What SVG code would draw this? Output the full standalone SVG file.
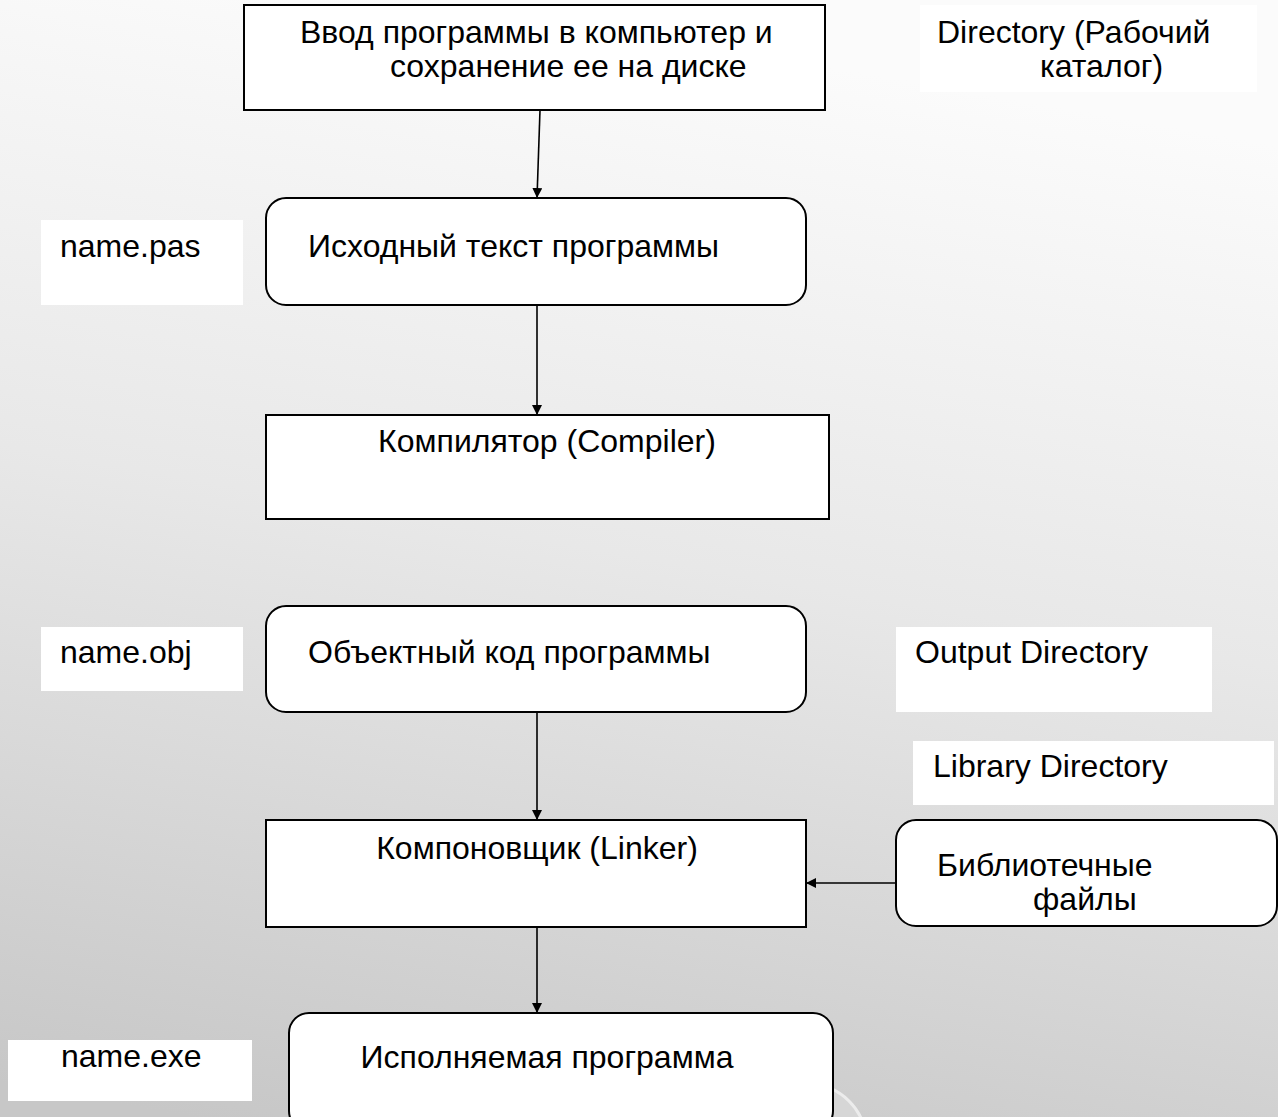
<svg xmlns="http://www.w3.org/2000/svg" width="1278" height="1117" viewBox="0 0 1278 1117">
  <defs>
    <linearGradient id="bg" x1="0.35" y1="0" x2="0.15" y2="1">
      <stop offset="0" stop-color="#fbfbfb"/>
      <stop offset="0.45" stop-color="#e8e8e8"/>
      <stop offset="1" stop-color="#c7c7c7"/>
    </linearGradient>
    <marker id="arrow" viewBox="0 0 10 10" refX="10" refY="5" markerWidth="10" markerHeight="10" markerUnits="userSpaceOnUse" orient="auto">
      <path d="M0,0 L10,5 L0,10 z" fill="#000"/>
    </marker>
    <style>
      .box { fill: #ffffff; stroke: #000000; stroke-width: 2; }
      .label { fill: #ffffff; stroke: none; }
      .t { font-family: "Liberation Sans", Arial, sans-serif; font-size: 32px; fill: #000000; }
      .mid { text-anchor: middle; }
      .conn { stroke: #000000; stroke-width: 1.6; fill: none; marker-end: url(#arrow); }
    </style>
  </defs>

  <!-- background -->
  <rect x="0" y="0" width="1278" height="1117" fill="url(#bg)"/>
  <circle cx="808" cy="1142" r="58" fill="#d6d6d6" stroke="#ececec" stroke-width="3"/>

  <!-- side labels -->
  <g id="label-directory">
    <rect class="label" x="920" y="5" width="337" height="87"/>
    <text class="t" x="937" y="43">Directory (Рабочий</text>
    <text class="t" x="1040" y="77">каталог)</text>
  </g>
  <g id="label-pas">
    <rect class="label" x="41" y="220" width="202" height="85"/>
    <text class="t" x="60" y="257">name.pas</text>
  </g>
  <g id="label-obj">
    <rect class="label" x="41" y="627" width="202" height="64"/>
    <text class="t" x="60" y="663">name.obj</text>
  </g>
  <g id="label-output">
    <rect class="label" x="896" y="627" width="316" height="85"/>
    <text class="t" x="915" y="663">Output Directory</text>
  </g>
  <g id="label-library">
    <rect class="label" x="913" y="741" width="361" height="64"/>
    <text class="t" x="933" y="777">Library Directory</text>
  </g>
  <g id="label-exe">
    <rect class="label" x="8" y="1040" width="244" height="61"/>
    <text class="t" x="61" y="1067">name.exe</text>
  </g>

  <!-- connectors -->
  <g id="connectors">
    <line class="conn" x1="540" y1="110" x2="537" y2="198"/>
    <line class="conn" x1="537" y1="305" x2="537" y2="415"/>
    <line class="conn" x1="537" y1="712" x2="537" y2="820"/>
    <line class="conn" x1="896" y1="883" x2="806" y2="883"/>
    <line class="conn" x1="537" y1="927" x2="537" y2="1013"/>
  </g>

  <!-- process nodes -->
  <g id="node-input">
    <rect class="box" x="244" y="5" width="581" height="105"/>
    <text class="t" x="300" y="43">Ввод программы в компьютер и</text>
    <text class="t" x="390" y="77">сохранение ее на диске</text>
  </g>
  <g id="node-source">
    <rect class="box" x="266" y="198" width="540" height="107" rx="20"/>
    <text class="t" x="308" y="257">Исходный текст программы</text>
  </g>
  <g id="node-compiler">
    <rect class="box" x="266" y="415" width="563" height="104"/>
    <text class="t mid" x="547" y="452">Компилятор (Compiler)</text>
  </g>
  <g id="node-object">
    <rect class="box" x="266" y="606" width="540" height="106" rx="20"/>
    <text class="t" x="308" y="663">Объектный код программы</text>
  </g>
  <g id="node-linker">
    <rect class="box" x="266" y="820" width="540" height="107"/>
    <text class="t mid" x="537" y="859">Компоновщик (Linker)</text>
  </g>
  <g id="node-libraries">
    <rect class="box" x="896" y="820" width="381" height="106" rx="20"/>
    <text class="t" x="937" y="876">Библиотечные</text>
    <text class="t" x="1033" y="910">файлы</text>
  </g>
  <g id="node-exe">
    <rect class="box" x="289" y="1013" width="544" height="118" rx="20"/>
    <text class="t mid" x="547" y="1068">Исполняемая программа</text>
  </g>
</svg>
